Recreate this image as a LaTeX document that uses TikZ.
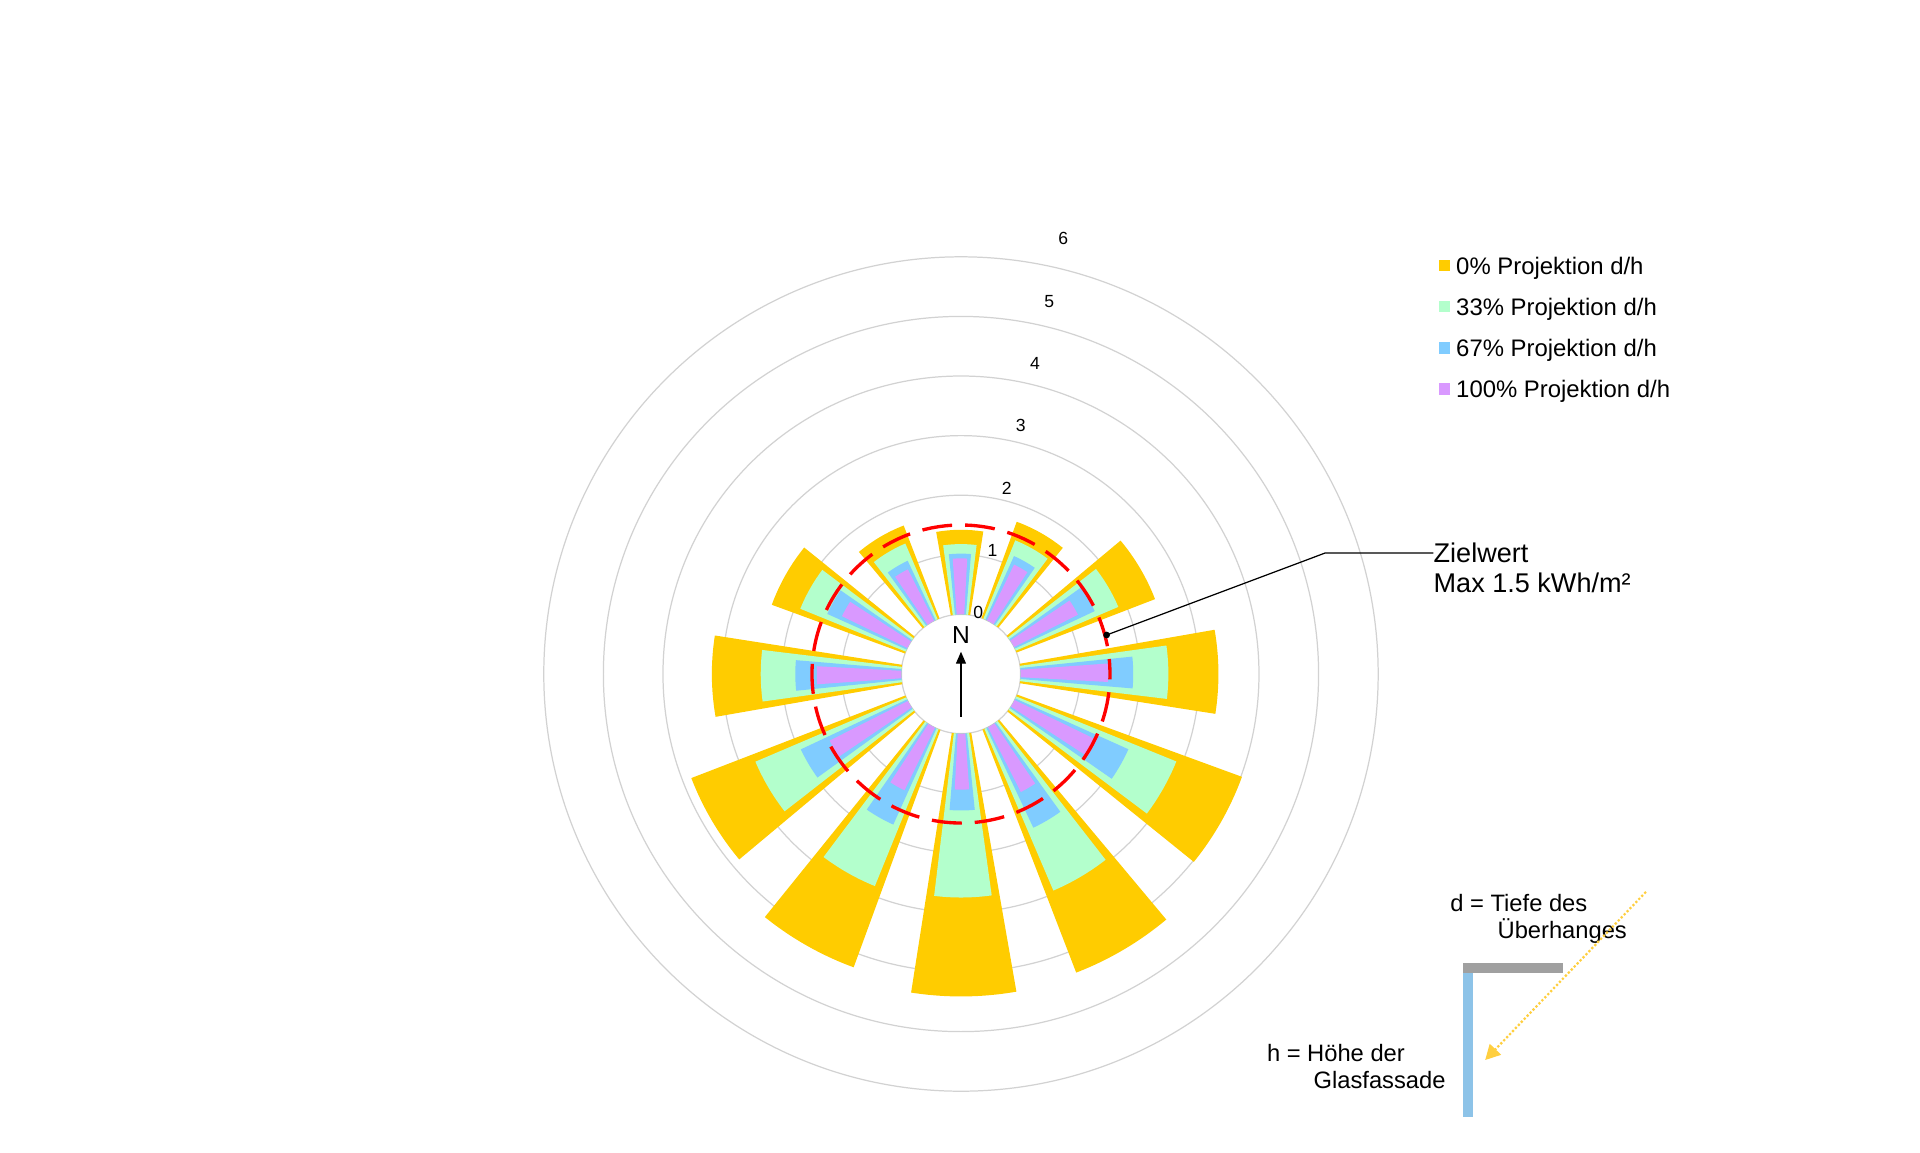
\documentclass[tikz,border=0pt]{standalone}
\usepackage{fontspec}
\setmainfont{Liberation Sans}
\usetikzlibrary{arrows.meta,positioning}

\definecolor{cYel}{HTML}{FFCC00}
\definecolor{cGrn}{HTML}{B3FFCC}
\definecolor{cBlu}{HTML}{80CCFF}
\definecolor{cVio}{HTML}{D999FF}
\definecolor{ringgray}{HTML}{D2D2D2}
\definecolor{glassblue}{HTML}{8DC3E8}
\definecolor{roofgray}{HTML}{A0A0A0}
\definecolor{sunyellow}{HTML}{FFCF40}

% one bar of the polar chart: mid angle, half width, value, colour
\newcommand{\sectorbar}[4]{%
  \fill[#4] ({#1-#2}:1) -- ({#1-#2}:{#3+1})
    arc[start angle={#1-#2}, end angle={#1+#2}, radius={#3+1}]
    -- ({#1+#2}:1) arc[start angle={#1+#2}, end angle={#1-#2}, radius=1] -- cycle;
}

\tikzset{
  ring/.style={ringgray, line width=0.7pt},
  ringlabel/.style={font=\fontsize{10}{12}\selectfont},
  legbox/.style={minimum size=0.226cm, inner sep=0pt},
  legtext/.style={font=\fontsize{13.6}{16}\selectfont, inner sep=0pt, text height=9.7pt, text depth=0pt},
  target/.style={red, line width=1.9pt, dash pattern=on 0.6cm off 0.26cm, dash phase=0.3cm},
  leader/.style={black, line width=0.7pt},
  dotmark/.style={circle, fill=black, inner sep=0pt, minimum size=0.134cm},
  zieltext/.style={font=\fontsize{15.4}{18}\selectfont, inner sep=0pt, anchor=base west},
  dimtext/.style={font=\fontsize{13.5}{16}\selectfont, inner sep=0pt, anchor=base west},
  sunray/.style={sunyellow, line width=1.8pt, line cap=round, dash pattern=on 0pt off 0.085cm,
    -{Triangle[length=0.3cm,width=0.3cm]}},
}

\begin{document}
\begin{tikzpicture}[scale=1.192]
    \useasboundingbox (-16.124,-8.020) rectangle (16.091,11.309);

    % grid rings (value 0 ... 6)
    \foreach \r in {1,...,7}
        \draw[ring] (0,0) circle[radius=\r];

    % bars: direction / 0% / 33% / 67% / 100%
    \foreach \ang/\vy/\vg/\vb/\vv in {0/1.42/1.18/1.02/0.94, 30/1.72/1.42/1.17/1.04,
        60/2.49/1.87/1.48/1.20, 90/3.32/2.48/1.89/1.47, 120/4.02/2.90/2.08/1.53,
        150/4.37/2.95/1.85/1.22, 180/4.41/2.75/1.29/0.94, 210/4.24/2.84/1.77/1.17,
        240/3.85/2.75/1.97/1.47, 270/3.18/2.36/1.78/1.42, 300/2.38/1.91/1.46/1.22,
        330/1.67/1.38/1.10/0.97} {
        \pgfmathsetmacro\a{90.5-\ang}
        \sectorbar{\a}{9.4}{\vy}{cYel}
        \sectorbar{\a}{7.4}{\vg}{cGrn}
        \sectorbar{\a}{5.3}{\vb}{cBlu}
        \sectorbar{\a}{3.6}{\vv}{cVio}
    }

    % axis values
    \foreach \v in {0,...,6}
        \node[ringlabel] (rl\v) at ({0.29+0.238*\v},{1.03+1.045*\v}) {\v};

    % target value 1.5
    \draw[target] (0,0) circle[radius=2.5];

    % north arrow
    \node[font=\fontsize{14}{16}\selectfont] (north) at (0,0.649) {N};
    \coordinate (arrtail) at (0,-0.716);
    \coordinate (arrtip) at (0,0.374);
    \draw[line width=0.75pt, -{Triangle[length=0.24cm,width=0.2cm]}] (arrtail) -- (arrtip);

    % Zielwert callout
    \node[zieltext] (ziel) at (7.925,1.867) {Zielwert};
    \node[zieltext] (zielmax) at (7.925,1.364) {Max 1.5 kWh/m²};
    \node[dotmark] (dot) at (15:2.53) {};
    \coordinate (bendx) at (6.107,0);
    \draw[leader] (dot.center) -- (ziel.west -| bendx) -- (ziel.west);

    % legend
    \foreach \c/\lab [count=\i] in {cYel/0\%, cGrn/33\%, cBlu/67\%, cVio/100\%} {
        \node[legbox, fill=\c] (leg\i) at (8.109,{6.851-0.69*(\i-1)}) {};
        \node[legtext, right=0.11cm of leg\i] (legtxt\i) {\lab\ Projektion d/h};
    }

    % overhang sketch
    \fill[roofgray] (8.428,-4.854) rectangle (10.106,-5.022);
    \fill[glassblue] (8.428,-5.022) rectangle (8.596,-7.428);
    \node[dimtext] (dtext) at (8.205,-3.988) {d = Tiefe des};
    \node[dimtext] (dtext2) at (8.998,-4.435) {Überhanges};
    \node[dimtext] (htext) at (5.129,-6.505) {h = Höhe der};
    \node[dimtext] (htext2) at (5.911,-6.951) {Glasfassade};
    \coordinate (sunfrom) at (11.477,-3.669);
    \coordinate (sunto) at (8.792,-6.477);
    \draw[sunray] (sunfrom) -- (sunto);
\end{tikzpicture}
\end{document}
